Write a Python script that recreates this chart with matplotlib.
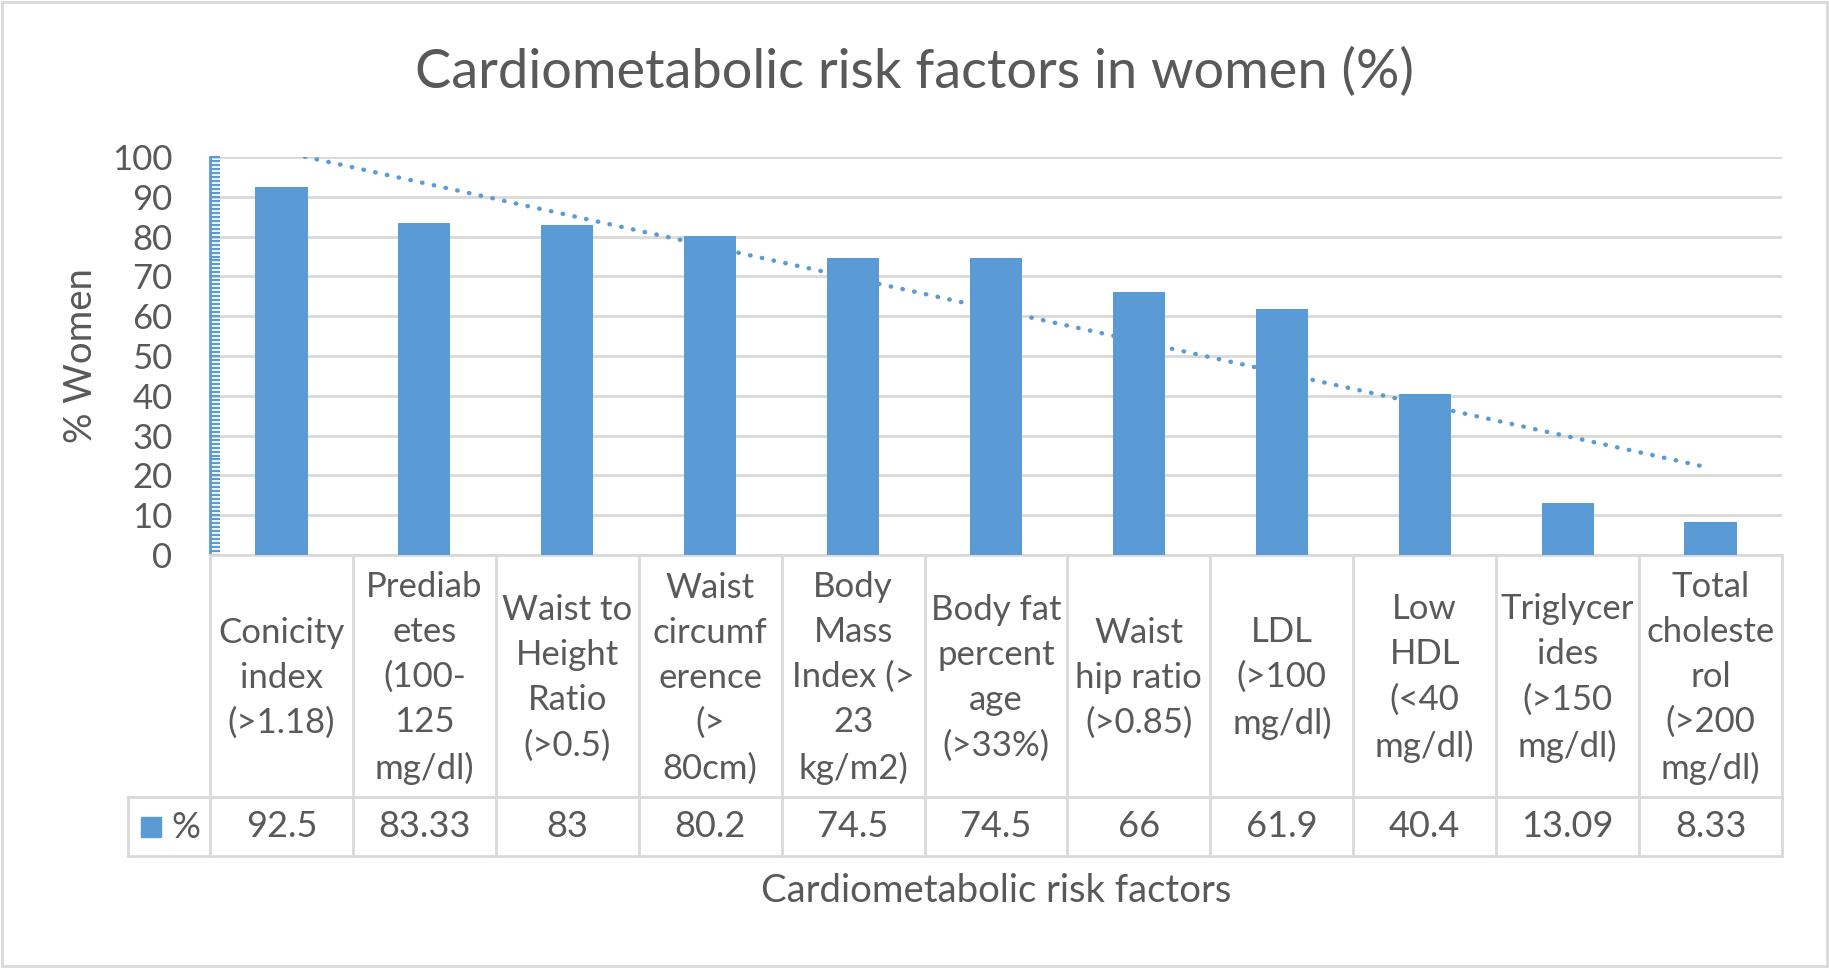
import matplotlib
matplotlib.use("Agg")
import matplotlib.pyplot as plt
import matplotlib.transforms as mtransforms
from matplotlib.patches import Rectangle
from matplotlib.lines import Line2D
from matplotlib.ticker import MultipleLocator
import numpy as np

categories = [
    "Conicity\nindex\n(>1.18)",
    "Prediab\netes\n(100-\n125\nmg/dl)",
    "Waist to\nHeight\nRatio\n(>0.5)",
    "Waist\ncircumf\nerence\n(>\n80cm)",
    "Body\nMass\nIndex (>\n23\nkg/m2)",
    "Body fat\npercent\nage\n(>33%)",
    "Waist\nhip ratio\n(>0.85)",
    "LDL\n(>100\nmg/dl)",
    "Low\nHDL\n(<40\nmg/dl)",
    "Triglycer\nides\n(>150\nmg/dl)",
    "Total\ncholeste\nrol\n(>200\nmg/dl)",
]
values = [92.5, 83.33, 83, 80.2, 74.5, 74.5, 66, 61.9, 40.4, 13.09, 8.33]
series_name = "%"
title = "Cardiometabolic risk factors in women (%)"
xlabel = "Cardiometabolic risk factors"
ylabel = "% Women"
yticks = [0, 10, 20, 30, 40, 50, 60, 70, 80, 90, 100]

BLUE = "#5B9BD5"
TXT = "#595959"
GRID = "#D9D9D9"
FONT = ["Lato", "DejaVu Sans"]
plt.rcParams["font.family"] = FONT

W, H = 1829, 968
fig = plt.figure(figsize=(W / 100, H / 100), dpi=100)

def fx(px):
    return px / W

def fy(py):
    return 1 - py / H

left, right, top, bottom = 210, 1782, 157, 555
ax = fig.add_axes([fx(left), fy(bottom), fx(right - left), (bottom - top) / H])

x = np.arange(len(values))
ax.bar(x, values, width=0.365, color=BLUE, zorder=3)

# linear trendline
coef = np.polyfit(x, values, 1)
xt = np.array([x[0], x[-1]])
ax.plot(xt, np.polyval(coef, xt), linestyle=(0, (0.1, 2.6)), dash_capstyle="round",
        color=BLUE, lw=3.2, zorder=4)

ax.set_xlim(-0.5, len(values) - 0.5)
ax.set_ylim(0, 100)
ax.set_yticks(yticks)
ax.yaxis.set_minor_locator(MultipleLocator(1))
ax.grid(axis="y", color=GRID, lw=2, zorder=0)
ax.set_axisbelow(True)
ax.set_xticks([])
for s in ["top", "right"]:
    ax.spines[s].set_visible(False)
ax.spines["left"].set_color(BLUE)
ax.spines["left"].set_linewidth(2)
ax.spines["bottom"].set_color(GRID)
ax.spines["bottom"].set_linewidth(2)
ax.tick_params(axis="y", which="both", direction="in", color=BLUE, width=1.6, length=7,
               labelsize=25, labelcolor=TXT, pad=27)
fig.text(fx(81), fy(356), ylabel, rotation=90, ha="center", va="center",
         fontsize=27.5, color=TXT)

# data table
bt = mtransforms.blended_transform_factory(ax.transData, fig.transFigure)
row1_bot, row2_bot = 797, 856
tab_left = 128
lkw = dict(color=GRID, lw=2, clip_on=False)
for i in range(len(values) + 1):
    xi = i - 0.5
    fig.add_artist(Line2D([xi, xi], [fy(bottom), fy(row2_bot)], transform=bt, **lkw))
for yy in [row1_bot, row2_bot]:
    fig.add_artist(Line2D([fx(tab_left), fx(right)], [fy(yy), fy(yy)], transform=fig.transFigure, **lkw))
fig.add_artist(Line2D([fx(tab_left), fx(tab_left)], [fy(row1_bot), fy(row2_bot)], transform=fig.transFigure, **lkw))

for i, (c, v) in enumerate(zip(categories, values)):
    fig.text(i, fy((bottom + row1_bot) / 2 + 2), c, transform=bt, ha="center", va="center",
             fontsize=25, color=TXT, linespacing=1.5, multialignment="center")
    fig.text(i, fy((row1_bot + row2_bot) / 2), f"{v:g}", transform=bt, ha="center", va="center",
             fontsize=26, color=TXT)

# legend key in table
fig.add_artist(Rectangle((fx(141), fy(837)), fx(20), 20 / H, transform=fig.transFigure,
                         color=BLUE))
fig.text(fx(171), fy(827), series_name, ha="left", va="center", fontsize=26, color=TXT)

fig.text(fx((left + right) / 2), fy(891), xlabel, ha="center", va="center", fontsize=27.5, color=TXT)
fig.text(0.5, fy(72), title, ha="center", va="center", fontsize=39, color=TXT)

fig.add_artist(Rectangle((0.001, 0.002), 0.998, 0.996, transform=fig.transFigure,
                         fill=False, edgecolor=GRID, lw=2))

fig.savefig("out.png", dpi=100, facecolor="white")
